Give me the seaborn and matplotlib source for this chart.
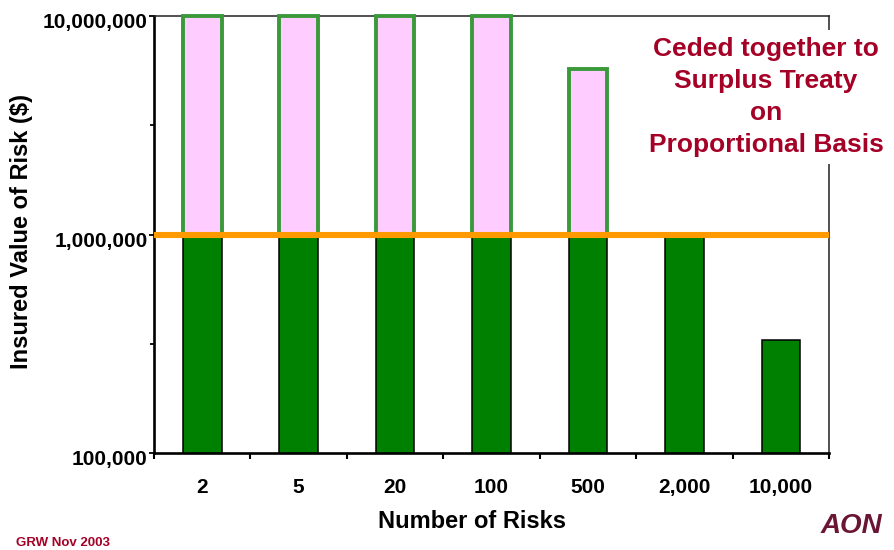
import matplotlib
matplotlib.use("Agg")
import matplotlib.pyplot as plt
import matplotlib.transforms as mtransforms
from matplotlib.ticker import FixedLocator, FuncFormatter, NullFormatter
import numpy as np
import pandas as pd
import seaborn as sns

# Insured value per risk for each portfolio size, and the retention limit
number_of_risks = ["2", "5", "20", "100", "500", "2,000", "10,000"]
insured_value = [10_000_000, 10_000_000, 10_000_000, 10_000_000, 5_700_000, 1_000_000, 330_000]
retention_limit = 1_000_000

retained = [min(v, retention_limit) for v in insured_value]
ceded = [v - r for v, r in zip(insured_value, retained)]

df = pd.DataFrame({"risks": number_of_risks, "retained": retained, "ceded": ceded})
df_ceded = df[df["ceded"] > 0]

sns.set_theme(style="ticks")
plt.rcParams["font.family"] = ["Liberation Sans", "DejaVu Sans"]
plt.rcParams["font.weight"] = "bold"
plt.rcParams["axes.labelweight"] = "bold"

W, H = 895, 550
fig = plt.figure(figsize=(W / 100, H / 100), dpi=100)
fig.patch.set_facecolor("white")
ax = fig.add_axes([154 / W, 1 - 453 / H, 675 / W, 437 / H])

# Retained portion (up to the retention limit)
sns.barplot(data=df, x="risks", y="retained", order=number_of_risks,
            color="#008000", saturation=1, width=0.4,
            edgecolor="black", linewidth=1.1, ax=ax, zorder=2)

# Portion ceded to the surplus treaty, stacked above the retention
sns.barplot(data=df_ceded, x="risks", y="ceded", order=number_of_risks,
            color="#ffccff", saturation=1, width=0.4,
            edgecolor="#3a9a3a", linewidth=2.8,
            bottom=df_ceded["retained"].values, ax=ax, zorder=3, clip_on=False)

# Retention line
ax.axhline(retention_limit, color="#ff9900", lw=4.4, zorder=4)

ax.set_yscale("log")
ax.set_ylim(1e5, 1e7)
ax.set_xlim(-0.5, len(number_of_risks) - 0.5)

ax.yaxis.set_major_locator(FixedLocator([1e5, 1e6, 1e7]))
ax.yaxis.set_major_formatter(FuncFormatter(lambda v, p: f"{v:,.0f}"))
ax.yaxis.set_minor_locator(FixedLocator([10 ** 5.5, 10 ** 6.5]))
ax.yaxis.set_minor_formatter(NullFormatter())

ax.xaxis.set_minor_locator(FixedLocator(np.arange(-0.5, len(number_of_risks), 1.0)))
ax.xaxis.set_minor_formatter(NullFormatter())

ax.tick_params(axis="x", which="major", length=0, pad=18, labelsize=15, colors="black")
ax.tick_params(axis="x", which="minor", bottom=True, length=4.5, width=1.5, direction="out", color="black")
ax.tick_params(axis="y", which="major", left=True, length=3.6, width=1.3, pad=1, labelsize=15, colors="black")
ax.tick_params(axis="y", which="minor", left=True, length=3.0, width=1.3, color="black")

for lab in ax.get_yticklabels():
    lab.set_transform(lab.get_transform() + mtransforms.ScaledTranslation(0, -4.5 / 100, fig.dpi_scale_trans))
for lab in ax.get_xticklabels() + ax.get_yticklabels():
    lab.set_fontweight("bold")

for side in ["left", "bottom"]:
    ax.spines[side].set_linewidth(1.9)
    ax.spines[side].set_color("black")
for side in ["top", "right"]:
    ax.spines[side].set_linewidth(1.1)
    ax.spines[side].set_color("#222222")

ax.set_xlabel("Number of Risks", fontsize=17, fontweight="bold", color="black")
ax.set_ylabel("Insured Value of Risk ($)", fontsize=17, fontweight="bold", color="black")
ax.xaxis.label.set_va("center")
ax.xaxis.set_label_coords((471.5 - 154) / 675, (453 - 521) / 437)
ax.yaxis.label.set_va("center")
ax.yaxis.set_label_coords((22 - 154) / 675, (453 - 231.5) / 437)

fig.text(766 / W, 1 - 97 / H,
         "Ceded together to\nSurplus Treaty\non\nProportional Basis",
         ha="center", va="center", multialignment="center",
         fontsize=19, fontweight="bold", color="#A50026", linespacing=1.42,
         bbox=dict(boxstyle="square,pad=0.25", facecolor="white", edgecolor="none"),
         zorder=5)

fig.text(16 / W, 1 - 543 / H, "GRW Nov 2003", ha="left", va="center",
         fontsize=9.5, fontweight="bold", color="#A50026")

fig.text(821 / W, 1 - 533 / H, "AON", ha="left", va="baseline",
         fontsize=20, fontweight="heavy", fontstyle="italic", color="#6B1535")

fig.savefig("out.png", dpi=100, facecolor="white")
